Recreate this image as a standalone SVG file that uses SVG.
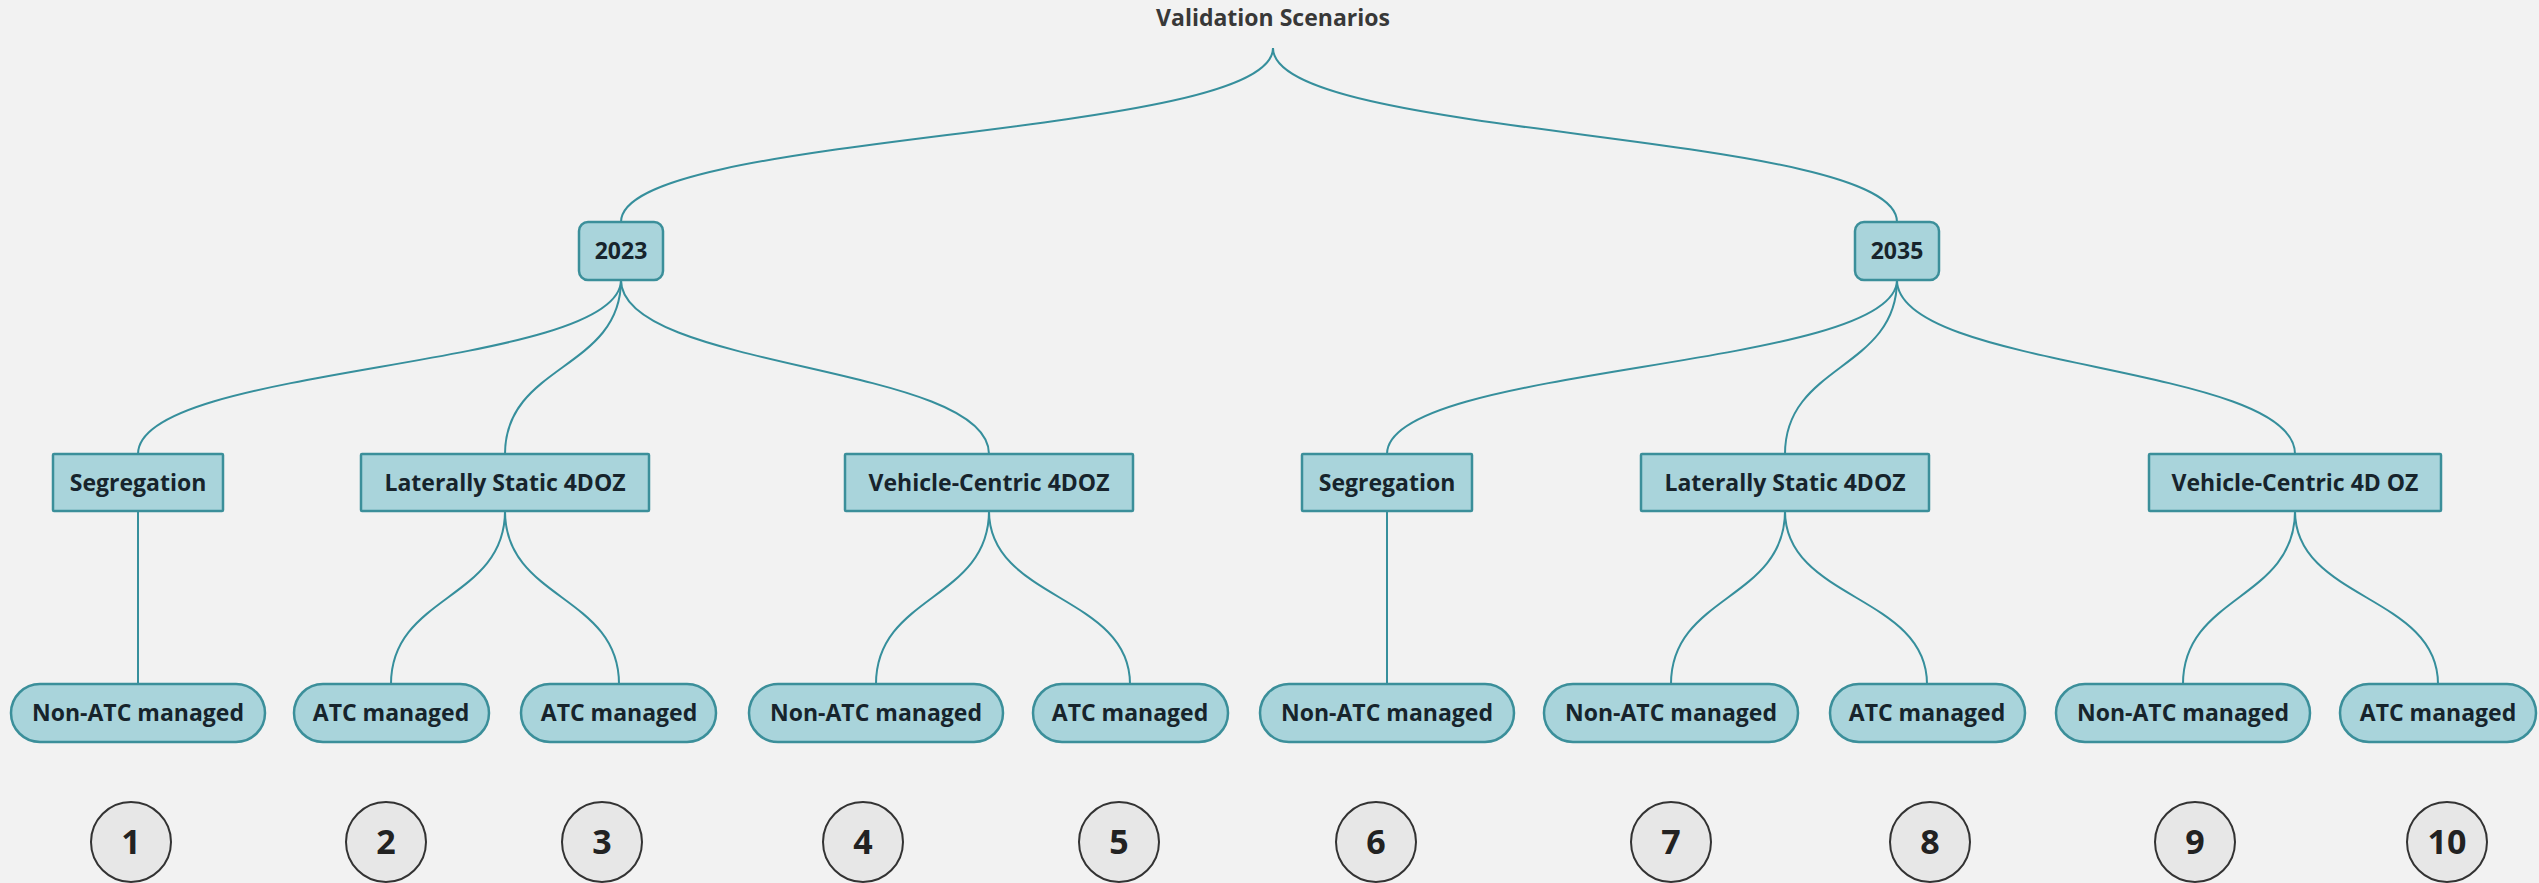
<svg xmlns="http://www.w3.org/2000/svg" width="2539" height="883" viewBox="0 0 2539 883">
<style>
.bg{fill:#f2f2f2}
.box{fill:#a9d4db;stroke:#3b8f9a;stroke-width:2.5}
.lbl{font-family:"Open Sans","Noto Sans",sans-serif;font-weight:700;font-size:23px;fill:#17242c;text-anchor:middle}
.title{font-family:"Open Sans","Noto Sans",sans-serif;font-weight:700;font-size:23px;fill:#383838;text-anchor:middle}
.num{font-family:"Open Sans","Noto Sans",sans-serif;font-weight:700;font-size:34px;fill:#222;text-anchor:middle}
.circ{fill:#e7e7e7;stroke:#333;stroke-width:2}
.con{fill:none;stroke:#368f9c;stroke-width:2}
</style>
<rect class="bg" x="0" y="0" width="2539" height="883"/>
<g id="connectors">
<path class="con" d="M1273,48 C1273,140 621,130 621,222"/>
<path class="con" d="M1273,48 C1273,140 1897,130 1897,222"/>
<path class="con" d="M621,280 C621,370 138,364 138,454"/>
<path class="con" d="M621,280 C621,370 505,364 505,454"/>
<path class="con" d="M621,280 C621,370 989,364 989,454"/>
<path class="con" d="M1897,280 C1897,370 1387,364 1387,454"/>
<path class="con" d="M1897,280 C1897,370 1785,364 1785,454"/>
<path class="con" d="M1897,280 C1897,370 2295,364 2295,454"/>
<path class="con" d="M138,511 L138,684"/>
<path class="con" d="M505,511 C505,600 391,595 391,684"/>
<path class="con" d="M505,511 C505,600 619,595 619,684"/>
<path class="con" d="M989,511 C989,600 876,595 876,684"/>
<path class="con" d="M989,511 C989,600 1130,595 1130,684"/>
<path class="con" d="M1387,511 L1387,684"/>
<path class="con" d="M1785,511 C1785,600 1671,595 1671,684"/>
<path class="con" d="M1785,511 C1785,600 1927,595 1927,684"/>
<path class="con" d="M2295,511 C2295,600 2183,595 2183,684"/>
<path class="con" d="M2295,511 C2295,600 2438,595 2438,684"/>
</g>
<g id="root"><text class="title" x="1273" y="26">Validation Scenarios</text></g>
<g id="y2023"><rect class="box" x="579" y="222" width="84" height="58" rx="9"/><text class="lbl" x="621" y="259">2023</text></g>
<g id="y2035"><rect class="box" x="1855" y="222" width="84" height="58" rx="9"/><text class="lbl" x="1897" y="259">2035</text></g>
<g id="seg1"><rect class="box" x="53" y="454" width="170" height="57" rx="1"/><text class="lbl" x="138" y="491">Segregation</text></g>
<g id="lat1"><rect class="box" x="361" y="454" width="288" height="57" rx="1"/><text class="lbl" x="505" y="491">Laterally Static 4DOZ</text></g>
<g id="veh1"><rect class="box" x="845" y="454" width="288" height="57" rx="1"/><text class="lbl" x="989" y="491">Vehicle-Centric 4DOZ</text></g>
<g id="seg2"><rect class="box" x="1302" y="454" width="170" height="57" rx="1"/><text class="lbl" x="1387" y="491">Segregation</text></g>
<g id="lat2"><rect class="box" x="1641" y="454" width="288" height="57" rx="1"/><text class="lbl" x="1785" y="491">Laterally Static 4DOZ</text></g>
<g id="veh2"><rect class="box" x="2149" y="454" width="292" height="57" rx="1"/><text class="lbl" x="2295" y="491">Vehicle-Centric 4D OZ</text></g>
<g id="leaf1"><rect class="box" x="11" y="684" width="254" height="58" rx="29"/><text class="lbl" x="138" y="721">Non-ATC managed</text></g>
<g id="leaf2"><rect class="box" x="294" y="684" width="195" height="58" rx="29"/><text class="lbl" x="391" y="721">ATC managed</text></g>
<g id="leaf3"><rect class="box" x="521" y="684" width="195" height="58" rx="29"/><text class="lbl" x="619" y="721">ATC managed</text></g>
<g id="leaf4"><rect class="box" x="749" y="684" width="254" height="58" rx="29"/><text class="lbl" x="876" y="721">Non-ATC managed</text></g>
<g id="leaf5"><rect class="box" x="1033" y="684" width="195" height="58" rx="29"/><text class="lbl" x="1130" y="721">ATC managed</text></g>
<g id="leaf6"><rect class="box" x="1260" y="684" width="254" height="58" rx="29"/><text class="lbl" x="1387" y="721">Non-ATC managed</text></g>
<g id="leaf7"><rect class="box" x="1544" y="684" width="254" height="58" rx="29"/><text class="lbl" x="1671" y="721">Non-ATC managed</text></g>
<g id="leaf8"><rect class="box" x="1830" y="684" width="195" height="58" rx="29"/><text class="lbl" x="1927" y="721">ATC managed</text></g>
<g id="leaf9"><rect class="box" x="2056" y="684" width="254" height="58" rx="29"/><text class="lbl" x="2183" y="721">Non-ATC managed</text></g>
<g id="leaf10"><rect class="box" x="2340" y="684" width="196" height="58" rx="29"/><text class="lbl" x="2438" y="721">ATC managed</text></g>
<g id="n1"><circle class="circ" cx="131" cy="842" r="40"/><text class="num" x="131" y="854">1</text></g>
<g id="n2"><circle class="circ" cx="386" cy="842" r="40"/><text class="num" x="386" y="854">2</text></g>
<g id="n3"><circle class="circ" cx="602" cy="842" r="40"/><text class="num" x="602" y="854">3</text></g>
<g id="n4"><circle class="circ" cx="863" cy="842" r="40"/><text class="num" x="863" y="854">4</text></g>
<g id="n5"><circle class="circ" cx="1119" cy="842" r="40"/><text class="num" x="1119" y="854">5</text></g>
<g id="n6"><circle class="circ" cx="1376" cy="842" r="40"/><text class="num" x="1376" y="854">6</text></g>
<g id="n7"><circle class="circ" cx="1671" cy="842" r="40"/><text class="num" x="1671" y="854">7</text></g>
<g id="n8"><circle class="circ" cx="1930" cy="842" r="40"/><text class="num" x="1930" y="854">8</text></g>
<g id="n9"><circle class="circ" cx="2195" cy="842" r="40"/><text class="num" x="2195" y="854">9</text></g>
<g id="n10"><circle class="circ" cx="2447" cy="842" r="40"/><text class="num" x="2447" y="854">10</text></g>
</svg>
